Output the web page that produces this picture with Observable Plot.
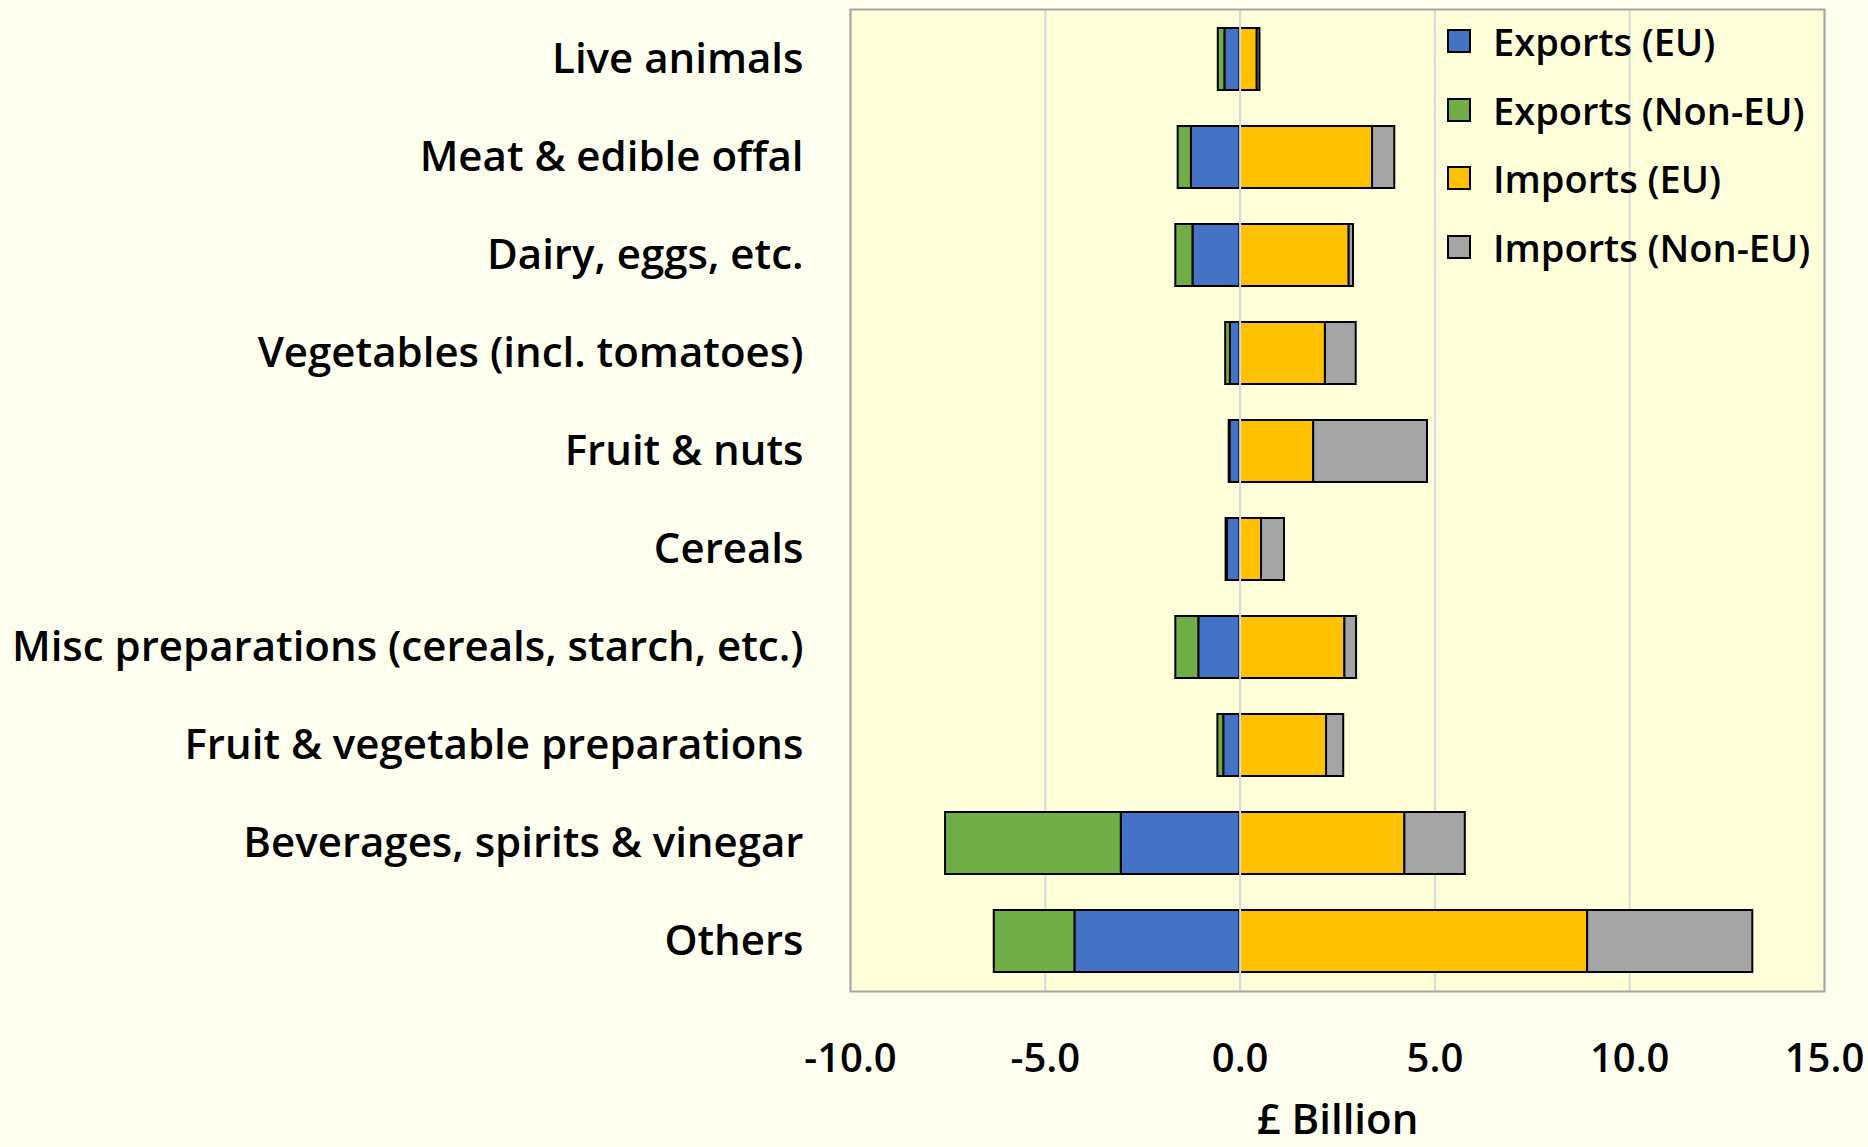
<!DOCTYPE html>
<html>
<head>
<meta charset="utf-8">
<script src="https://cdn.jsdelivr.net/npm/d3@7"></script>
<script src="https://cdn.jsdelivr.net/npm/@observablehq/plot@0.6"></script>
<style>
  html, body { margin: 0; padding: 0; background: #fffff0; }
  #wrap { position: relative; width: 1868px; height: 1147px; overflow: hidden; font-family: "Open Sans", sans-serif; }
  #legend { position: absolute; left: 1447px; top: 29px; }
  .row { position: absolute; left: 0; display: flex; align-items: center; height: 24px; white-space: nowrap; }
  .sw { width: 24px; height: 24px; box-sizing: border-box; border: 2px solid #000; margin-right: 22px; flex: none; }
  .lab { font-size: 38px; font-weight: 600; color: #000; line-height: 24px; }
</style>
</head>
<body>
<div id="wrap"><div id="chart"></div><div id="legend"></div></div>
<script>
const categories = [
  "Live animals",
  "Meat & edible offal",
  "Dairy, eggs, etc.",
  "Vegetables (incl. tomatoes)",
  "Fruit & nuts",
  "Cereals",
  "Misc preparations (cereals, starch, etc.)",
  "Fruit & vegetable preparations",
  "Beverages, spirits & vinegar",
  "Others"
];
const seriesNames = ["Exports (EU)", "Exports (Non-EU)", "Imports (EU)", "Imports (Non-EU)"];
const seriesColors = ["#4472c4", "#70ad47", "#ffc000", "#a5a5a5"];
const exportsEU    = [-0.39, -1.25, -1.21, -0.25, -0.26, -0.33, -1.06, -0.42, -3.05, -4.24];
const exportsNonEU = [-0.17, -0.34, -0.44, -0.12, -0.02, -0.03, -0.59, -0.15, -4.51, -2.07];
const importsEU    = [0.44, 3.40, 2.80, 2.19, 1.89, 0.55, 2.69, 2.22, 4.23, 8.92];
const importsNonEU = [0.07, 0.57, 0.11, 0.79, 2.92, 0.59, 0.30, 0.44, 1.55, 4.24];
const xTicks = [-10, -5, 0, 5, 10, 15];
const xLabel = "£ Billion";

const seriesValues = [exportsEU, exportsNonEU, importsEU, importsNonEU];
const rows = [];
categories.forEach((c, i) => {
  seriesNames.forEach((s, j) => rows.push({category: c, series: s, value: seriesValues[j][i]}));
});

const chart = Plot.plot({
  width: 1868,
  height: 1147,
  marginLeft: 850,
  marginRight: 44,
  marginTop: 9,
  marginBottom: 156,
  style: {fontFamily: "'Open Sans', sans-serif", fontSize: "42px", fontWeight: 600, color: "#000", background: "transparent", overflow: "visible"},
  x: {domain: [xTicks[0], xTicks[xTicks.length - 1]]},
  y: {domain: categories, paddingInner: 0.37, paddingOuter: 0.185},
  color: {domain: seriesNames, range: seriesColors},
  marks: [
    Plot.frame({fill: "#ffffda", stroke: null}),
    Plot.ruleX(xTicks, {stroke: "#d9d9d9", strokeWidth: 2}),
    Plot.barX(rows, Plot.stackX({x: "value", y: "category", fill: "series", stroke: "#000", strokeWidth: 2, order: null})),
    Plot.ruleX([0], {stroke: "#d9d9d9", strokeWidth: 2}),
    Plot.frame({stroke: "#a6a6a6", strokeWidth: 2}),
    Plot.axisX({ticks: xTicks, tickSize: 0, tickPadding: 52, fontSize: 40, tickFormat: d => d.toFixed(1), label: null}),
    Plot.axisX({ticks: [], tickSize: 0, label: xLabel, labelAnchor: "center", labelArrow: "none", labelOffset: 142, fontSize: 42}),
    Plot.axisY({tickSize: 0, tickPadding: 47, label: null})
  ]
});
document.getElementById("chart").appendChild(chart);

const legend = document.getElementById("legend");
seriesNames.forEach((s, j) => {
  const row = document.createElement("div");
  row.className = "row";
  row.style.top = (j * 68.7) + "px";
  const sw = document.createElement("div");
  sw.className = "sw";
  sw.style.background = seriesColors[j];
  const lab = document.createElement("div");
  lab.className = "lab";
  lab.textContent = s;
  row.appendChild(sw);
  row.appendChild(lab);
  legend.appendChild(row);
});
</script>
</body>
</html>
